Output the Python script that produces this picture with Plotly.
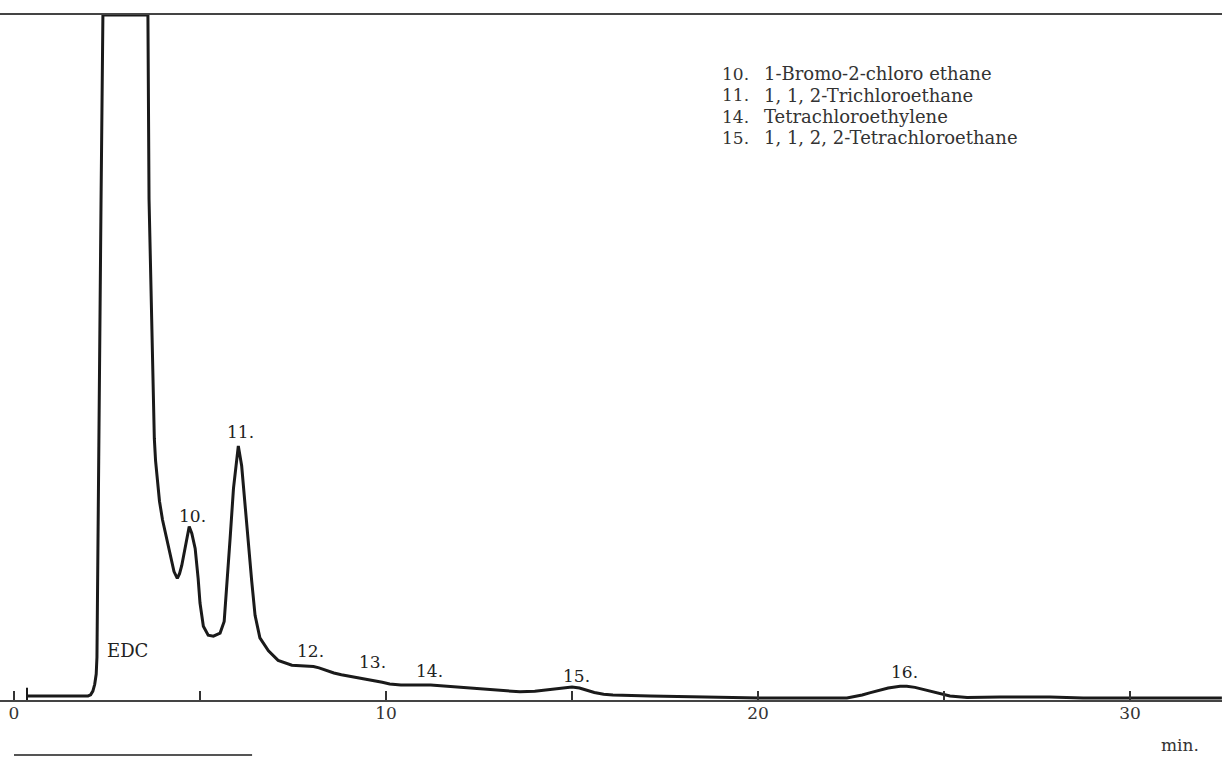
import plotly.graph_objects as go

# Retention time (min) and detector response (relative units, 100 = full scale)
time_min = [0.35, 1.99, 2.06, 2.12, 2.17, 2.21, 2.23, 2.25, 2.28, 2.34, 2.39,
            3.60, 3.63, 3.683, 3.728, 3.742, 3.772, 3.806, 3.849, 3.911, 3.992, 4.086, 4.194,
            4.301, 4.39, 4.45, 4.51, 4.58, 4.64, 4.71, 4.78, 4.87, 4.95, 5.00, 5.09, 5.22,
            5.36, 5.54, 5.65, 5.72, 5.81, 5.90, 5.99, 6.03, 6.12, 6.21, 6.30, 6.39, 6.48,
            6.61, 6.84, 7.10, 7.47, 7.88, 8.05, 8.20, 8.40, 8.60, 8.80, 9.00, 9.38, 9.70,
            9.90, 10.10, 10.40, 11.20, 11.60, 12.26, 12.93, 13.60, 14.00, 14.40, 14.80,
            15.00, 15.20, 15.40, 15.60, 15.85, 16.10, 17.10, 18.44, 20.05, 22.39, 22.60,
            22.80, 23.00, 23.20, 23.50, 23.82, 24.00, 24.22, 24.45, 24.62, 24.90, 25.16,
            25.62, 26.51, 27.85, 28.74, 32.47]
response = [0.3, 0.3, 0.45, 1.0, 2.0, 3.5, 6.0, 20.0, 45.0, 73.0, 100.0,
            100.0, 73.0, 58.4, 46.7, 41.9, 38.0, 34.7, 31.8, 28.8, 26.1, 23.8, 21.0,
            18.5, 17.5, 18.2, 19.4, 21.4, 23.4, 25.1, 24.1, 21.9, 17.5, 13.9, 10.5, 9.2,
            9.05, 9.5, 11.2, 16.1, 23.4, 30.7, 35.5, 36.9, 34.0, 28.2, 22.3, 17.1, 12.1,
            8.8, 6.9, 5.5, 4.8, 4.7, 4.6, 4.4, 4.0, 3.65, 3.4, 3.2, 2.9, 2.6,
            2.3, 2.05, 1.9, 1.9, 1.75, 1.46, 1.17, 0.9, 0.98, 1.2, 1.5,
            1.6, 1.45, 1.15, 0.8, 0.55, 0.44, 0.3, 0.15, 0.0, 0.0, 0.2,
            0.44, 0.75, 1.05, 1.45, 1.7, 1.7, 1.55, 1.25, 1.0, 0.6, 0.3,
            0.05, 0.15, 0.15, 0.0, 0.0]

# Peak labels
peak_labels = ["EDC", "10.", "11.", "12.", "13.", "14.", "15.", "16."]
peak_label_x = [3.05, 4.81, 6.08, 7.96, 9.65, 11.18, 15.11, 23.95]
peak_label_y = [7.0, 26.6, 38.9, 6.9, 5.3, 4.0, 3.2, 3.8]

# Compound key
key_numbers = ["10.", "11.", "14.", "15."]
key_names = ["1-Bromo-2-chloro ethane", "1, 1, 2-Trichloroethane",
             "Tetrachloroethylene", "1, 1, 2, 2-Tetrachloroethane"]

tick_vals = [0, 5, 10, 15, 20, 25, 30]
tick_text = ["0", "", "10", "", "20", "", "30"]
injection_marks = [0.35]

FONT = "DejaVu Serif"
INK = "#1a1a1a"

fig = go.Figure()
fig.add_trace(go.Scatter(x=time_min, y=response, mode="lines",
                         line=dict(color=INK, width=3),
                         hoverinfo="skip", showlegend=False))

for t, tx, ty in zip(peak_labels, peak_label_x, peak_label_y):
    fig.add_annotation(x=tx, y=ty, text=t, showarrow=False, xanchor="center", yanchor="middle",
                       font=dict(family=FONT, size=18 if t == "EDC" else 17, color="#222"))

for i, (n, name) in enumerate(zip(key_numbers, key_names)):
    yy = 1 - (74 - 15 + 21.3 * i) / 685
    fig.add_annotation(xref="paper", yref="paper", x=720 / 1222, y=yy, text=n, showarrow=False,
                       xanchor="left", yanchor="middle", font=dict(family=FONT, size=17, color="#333"))
    fig.add_annotation(xref="paper", yref="paper", x=762 / 1222, y=yy, text=name, showarrow=False,
                       xanchor="left", yanchor="middle", font=dict(family=FONT, size=18, color="#333"))

fig.add_annotation(xref="paper", yref="paper", x=1180 / 1222, y=-(745 - 700) / 685, text="min.",
                   showarrow=False, xanchor="center", yanchor="middle",
                   font=dict(family=FONT, size=17, color="#333"))

for m in injection_marks:
    fig.add_shape(type="line", xref="x", yref="y", x0=m, x1=m, y0=-0.3, y1=1.5,
                  line=dict(color=INK, width=2))

# short rule at the bottom of the scan
fig.add_shape(type="line", xref="x", yref="paper", x0=0, x1=6.4,
              y0=-(755 - 700) / 685, y1=-(755 - 700) / 685, line=dict(color="#555", width=2))

fig.update_xaxes(range=[-14 / 37.2, (1222 - 14) / 37.2], showgrid=False, zeroline=False,
                 showline=True, linecolor="#444", linewidth=2, mirror=True,
                 tickmode="array", tickvals=tick_vals, ticktext=tick_text,
                 ticks="inside", ticklen=9, tickwidth=1.5, tickcolor="#333",
                 ticklabelstandoff=-3,
                 tickfont=dict(family=FONT, size=17, color="#333"))
fig.update_yaxes(range=[-0.3, 100], showgrid=False, zeroline=False, showline=False,
                 showticklabels=False, ticks="")
fig.update_layout(width=1222, height=757, margin=dict(l=0, r=0, t=15, b=57),
                  plot_bgcolor="white", paper_bgcolor="white")

fig.write_html("out.html")
